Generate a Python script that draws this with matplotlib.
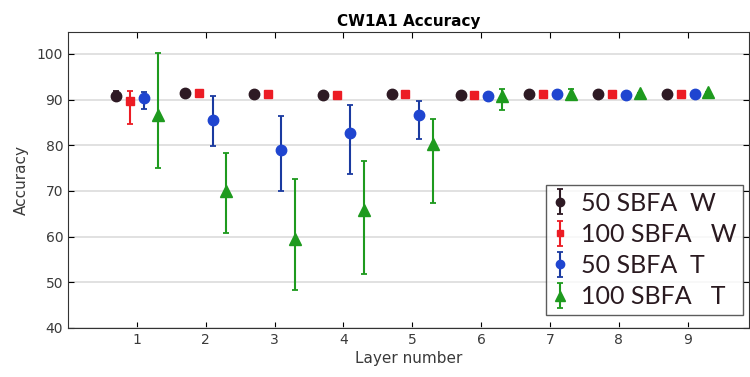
import matplotlib.pyplot as plt
import numpy as np

# Dados
layers = np.arange(1, 10)

w50 = [90.9, 91.4, 91.2, 91.1, 91.2, 91.1, 91.2, 91.2, 91.2]
w50_lo = [0.9, 0, 0, 0, 0, 0, 0, 0, 0]
w50_hi = [0.9, 0, 0, 0, 0, 0, 0, 0, 0]

w100 = [89.7, 91.4, 91.2, 91.1, 91.2, 91.1, 91.2, 91.2, 91.2]
w100_lo = [5.1, 0, 0, 0, 0, 0, 0, 0, 0]
w100_hi = [2.2, 0, 0, 0, 0, 0, 0, 0, 0]

t50 = [90.3, 85.5, 78.9, 82.7, 86.6, 90.8, 91.2, 91.1, 91.3]
t50_lo = [2.4, 5.7, 9.0, 8.9, 5.2, 0, 0, 0, 0]
t50_hi = [1.4, 5.2, 7.6, 6.2, 3.0, 0, 0, 0, 0]

t100 = [86.6, 70.1, 59.5, 65.9, 80.3, 90.9, 91.3, 91.5, 91.6]
t100_lo = [11.5, 9.4, 11.1, 14.1, 12.9, 3.2, 1.2, 0, 0]
t100_hi = [13.6, 8.2, 13.2, 10.6, 5.5, 1.4, 1.0, 0, 0]

labels = ['50 SBFA  W', '100 SBFA   W', '50 SBFA  T', '100 SBFA   T']

fig = plt.figure(figsize=(7.5, 3.77), dpi=100)
ax = fig.add_axes([0.0907, 0.130, 0.908, 0.785])

series = [
    (w50, w50_lo, w50_hi, -0.3, 'o', '#2e1a24', '#2e1a24', 7.5),
    (w100, w100_lo, w100_hi, -0.1, 's', '#ec1c24', '#ec1c24', 6),
    (t50, t50_lo, t50_hi, 0.1, 'o', '#1f45d0', '#1a3aa0', 7.5),
    (t100, t100_lo, t100_hi, 0.3, '^', '#1e9a1e', '#1e9a1e', 8.5),
]

for (y, lo, hi, dx, mk, mc, ec, ms), lab in zip(series, labels):
    ax.errorbar(layers + dx, y, yerr=[lo, hi], fmt=mk, color=mc, ecolor=ec,
                markersize=ms, elinewidth=1.5, capsize=2.5, capthick=1.3,
                label=lab, zorder=3)

ax.set_xlim(0, 9.89)
ax.set_ylim(40, 104.8)
ax.set_xticks(layers)
ax.set_yticks(range(40, 101, 10))
ax.grid(axis='y', color='#dcdcdc', linewidth=1.2)
ax.set_axisbelow(True)
ax.tick_params(direction='in', top=True, right=True, labelsize=10,
               labelcolor='#3a3a3a', length=4)
for s in ax.spines.values():
    s.set_color('#333333')

ax.set_title('CW1A1 Accuracy', fontsize=11, fontweight='bold',
             family='Liberation Sans Narrow', pad=4)
ax.set_xlabel('Layer number', fontsize=11, color='#3a3a3a', labelpad=3)
ax.set_ylabel('Accuracy', fontsize=11, color='#3a3a3a', labelpad=6)

leg = ax.legend(loc='lower right', bbox_to_anchor=(0.991, 0.045),
                prop={'family': 'Lato', 'size': 18}, frameon=True,
                fancybox=False, edgecolor='#333333', borderpad=0.25,
                labelspacing=0.33, handlelength=0.6, handletextpad=0.55,
                borderaxespad=0, markerscale=0.8)
leg.get_frame().set_linewidth(1.0)
for t in leg.get_texts():
    t.set_color('#2a1a20')

fig.savefig('out.png', dpi=100)
